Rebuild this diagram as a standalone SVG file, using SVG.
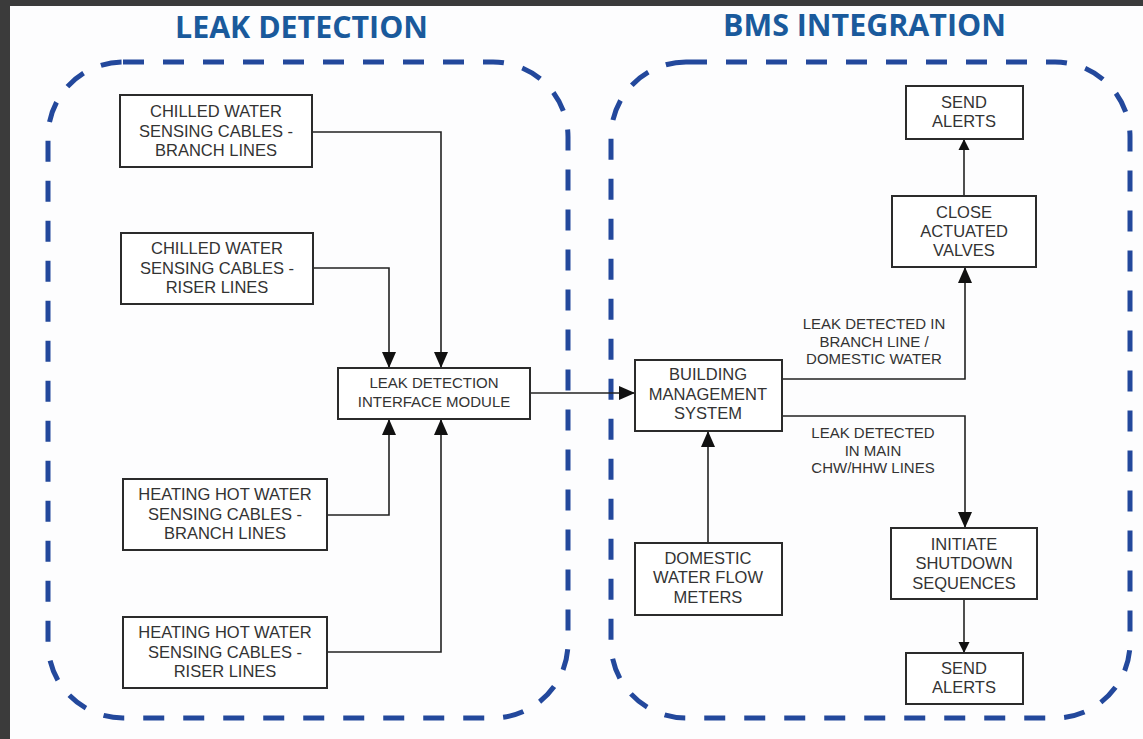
<svg xmlns="http://www.w3.org/2000/svg" width="1143" height="739" viewBox="0 0 1143 739">
<defs>
<style>
.title{font-family:"Open Sans","Liberation Sans",sans-serif;font-weight:bold;font-size:31px;fill:#1a5a9c}
.box{fill:#ffffff;stroke:#2b2b2b;stroke-width:2}
.t{font-family:"Liberation Sans",Arial,sans-serif;font-size:16.5px;fill:#333333;text-anchor:middle}
.ts{font-family:"Liberation Sans",Arial,sans-serif;font-size:15px;fill:#333333;text-anchor:middle}
.wire{fill:none;stroke:#222222;stroke-width:1.6}
.zone{fill:none;stroke:#23489c;stroke-width:5;stroke-dasharray:21 19}
</style>
<marker id="ah" markerUnits="userSpaceOnUse" markerWidth="16" markerHeight="16" viewBox="0 0 16 16" refX="16" refY="8" orient="auto">
<path d="M0,1 L16,8 L0,15 Z" fill="#111111"/>
</marker>
<marker id="ahs" markerUnits="userSpaceOnUse" markerWidth="11" markerHeight="12" viewBox="0 0 11 12" refX="11" refY="6" orient="auto">
<path d="M0,0.5 L11,6 L0,11.5 Z" fill="#111111"/>
</marker>
</defs>
<rect x="0" y="0" width="1143" height="739" fill="#3b3b3b"/>
<rect x="10" y="6" width="1133" height="733" fill="#fdfdfe"/>

<g id="titles">
<text class="title" x="175" y="38" textLength="253" lengthAdjust="spacingAndGlyphs">LEAK DETECTION</text>
<text class="title" x="723" y="36" textLength="283" lengthAdjust="spacingAndGlyphs">BMS INTEGRATION</text>
</g>

<g id="zones">
<rect class="zone" x="48" y="62" width="520" height="656" rx="75" ry="75"/>
<rect class="zone" x="611" y="62" width="519" height="656" rx="75" ry="75"/>
</g>

<g id="connectors">
<path class="wire" d="M312,132 H441 V368" marker-end="url(#ah)"/>
<path class="wire" d="M313,268 H389 V368" marker-end="url(#ah)"/>
<path class="wire" d="M327,515 H389 V419" marker-end="url(#ah)"/>
<path class="wire" d="M327,652 H441 V419" marker-end="url(#ah)"/>
<path class="wire" d="M530,393 H635" marker-end="url(#ah)"/>
<path class="wire" d="M782,379 H965 V267" marker-end="url(#ah)"/>
<path class="wire" d="M782,416 H965 V528" marker-end="url(#ah)"/>
<path class="wire" d="M964,196 V139" marker-end="url(#ahs)"/>
<path class="wire" d="M964,599 V653" marker-end="url(#ahs)"/>
<path class="wire" d="M708,543 V431" marker-end="url(#ah)"/>
</g>

<g id="label-branch">
<text class="ts" x="874" y="329">LEAK DETECTED IN</text>
<text class="ts" x="874" y="347">BRANCH LINE /</text>
<text class="ts" x="874" y="364">DOMESTIC WATER</text>
</g>
<g id="label-main">
<text class="ts" x="873" y="438">LEAK DETECTED</text>
<text class="ts" x="873" y="456">IN MAIN</text>
<text class="ts" x="873" y="473">CHW/HHW LINES</text>
</g>

<g id="cw-branch">
<rect class="box" x="120" y="95" width="192" height="72"/>
<text class="t" x="216" y="117">CHILLED WATER</text>
<text class="t" x="216" y="137">SENSING CABLES -</text>
<text class="t" x="216" y="156">BRANCH LINES</text>
</g>
<g id="cw-riser">
<rect class="box" x="121" y="233" width="192" height="71"/>
<text class="t" x="217" y="254">CHILLED WATER</text>
<text class="t" x="217" y="274">SENSING CABLES -</text>
<text class="t" x="217" y="293">RISER LINES</text>
</g>
<g id="hhw-branch">
<rect class="box" x="123" y="479" width="204" height="71"/>
<text class="t" x="225" y="500">HEATING HOT WATER</text>
<text class="t" x="225" y="520">SENSING CABLES -</text>
<text class="t" x="225" y="539">BRANCH LINES</text>
</g>
<g id="hhw-riser">
<rect class="box" x="123" y="617" width="204" height="71"/>
<text class="t" x="225" y="638">HEATING HOT WATER</text>
<text class="t" x="225" y="658">SENSING CABLES -</text>
<text class="t" x="225" y="677">RISER LINES</text>
</g>
<g id="ldim">
<rect class="box" x="338" y="368" width="192" height="51"/>
<text class="ts" x="434" y="388">LEAK DETECTION</text>
<text class="ts" x="434" y="407">INTERFACE MODULE</text>
</g>
<g id="bms">
<rect class="box" x="635" y="360" width="147" height="71"/>
<text class="t" x="708" y="380">BUILDING</text>
<text class="t" x="708" y="400">MANAGEMENT</text>
<text class="t" x="708" y="419">SYSTEM</text>
</g>
<g id="dwfm">
<rect class="box" x="635" y="543" width="147" height="72"/>
<text class="t" x="708" y="564">DOMESTIC</text>
<text class="t" x="708" y="583">WATER FLOW</text>
<text class="t" x="708" y="603">METERS</text>
</g>
<g id="send-alerts-top">
<rect class="box" x="906" y="86" width="117" height="53"/>
<text class="t" x="964" y="108">SEND</text>
<text class="t" x="964" y="127">ALERTS</text>
</g>
<g id="close-valves">
<rect class="box" x="892" y="196" width="144" height="71"/>
<text class="t" x="964" y="218">CLOSE</text>
<text class="t" x="964" y="237">ACTUATED</text>
<text class="t" x="964" y="256">VALVES</text>
</g>
<g id="initiate-shutdown">
<rect class="box" x="891" y="528" width="146" height="71"/>
<text class="t" x="964" y="550">INITIATE</text>
<text class="t" x="964" y="569">SHUTDOWN</text>
<text class="t" x="964" y="589">SEQUENCES</text>
</g>
<g id="send-alerts-bottom">
<rect class="box" x="906" y="653" width="117" height="51"/>
<text class="t" x="964" y="674">SEND</text>
<text class="t" x="964" y="693">ALERTS</text>
</g>
</svg>
